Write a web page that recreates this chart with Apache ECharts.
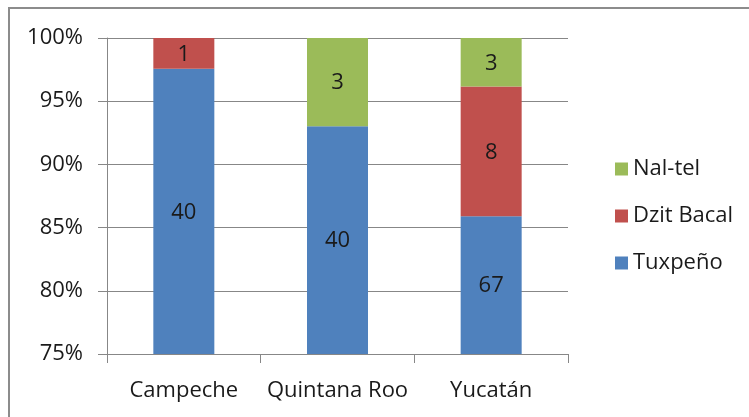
<!DOCTYPE html>
<html>
<head>
<meta charset="utf-8">
<script src="https://cdn.jsdelivr.net/npm/echarts@6/dist/echarts.min.js"></script>
<style>
  html, body { margin: 0; padding: 0; background: #fff; overflow: hidden; }
  #frame {
    position: absolute; left: 8px; top: 7px;
    width: 800px; height: 500px;
    border: 2px solid #8c8c8c;
  }
  #chart { position: absolute; left: 0; top: 0; width: 749px; height: 417px; }
</style>
</head>
<body>
<div id="frame"></div>
<div id="chart"></div>
<script>
// datos
const estados = ['Campeche', 'Quintana Roo', 'Yucatán'];
const tuxpeno = [40, 40, 67];
const dzitBacal = [1, 0, 8];
const nalTel = [0, 3, 3];
const yTicks = [75, 80, 85, 90, 95, 100];

const totals = estados.map((_, i) => tuxpeno[i] + dzitBacal[i] + nalTel[i]);
const pct = arr => arr.map((v, i) => v / totals[i] * 100);

const FONT = 'Open Sans';
const TXT = '#1a1a1a';
const FS = 22;

function serie(name, counts, color) {
  return {
    name: name,
    type: 'bar',
    stack: 'total',
    barWidth: 61,
    data: pct(counts),
    itemStyle: { color: color },
    label: {
      show: true,
      position: 'inside',
      color: TXT,
      fontFamily: FONT,
      fontSize: FS,
      offset: [0, 1],
      formatter: p => counts[p.dataIndex] > 0 ? String(counts[p.dataIndex]) : ''
    }
  };
}

const chart = echarts.init(document.getElementById('chart'));
chart.setOption({
  animation: false,
  grid: { left: 107, right: 181, top: 38, bottom: 63 },
  legend: {
    orient: 'vertical',
    left: 610,
    top: 151,
    itemWidth: 13,
    itemHeight: 13,
    itemGap: 21,
    icon: 'rect',
    data: ['Nal-tel', 'Dzit Bacal', 'Tuxpeño'],
    textStyle: { fontFamily: FONT, fontSize: FS, color: TXT, lineHeight: 26 }
  },
  xAxis: {
    type: 'category',
    data: estados,
    axisLine: { lineStyle: { color: '#878787', width: 1 } },
    axisTick: { show: true, length: 9, lineStyle: { color: '#878787' } },
    axisLabel: { fontFamily: FONT, fontSize: FS, color: TXT, margin: 26, interval: 0 }
  },
  yAxis: {
    type: 'value',
    min: 75,
    max: 100,
    interval: 5,
    axisLine: { show: true, lineStyle: { color: '#878787', width: 1 } },
    axisTick: { show: true, length: 9, lineStyle: { color: '#878787' } },
    splitLine: { lineStyle: { color: '#878787', width: 1 } },
    axisLabel: {
      fontFamily: FONT, fontSize: FS, color: TXT, margin: 24,
      formatter: v => yTicks.includes(v) ? v + '%' : ''
    }
  },
  series: [
    serie('Tuxpeño', tuxpeno, '#4f81bd'),
    serie('Dzit Bacal', dzitBacal, '#c0504d'),
    serie('Nal-tel', nalTel, '#9bbb59')
  ]
});
</script>
</body>
</html>
